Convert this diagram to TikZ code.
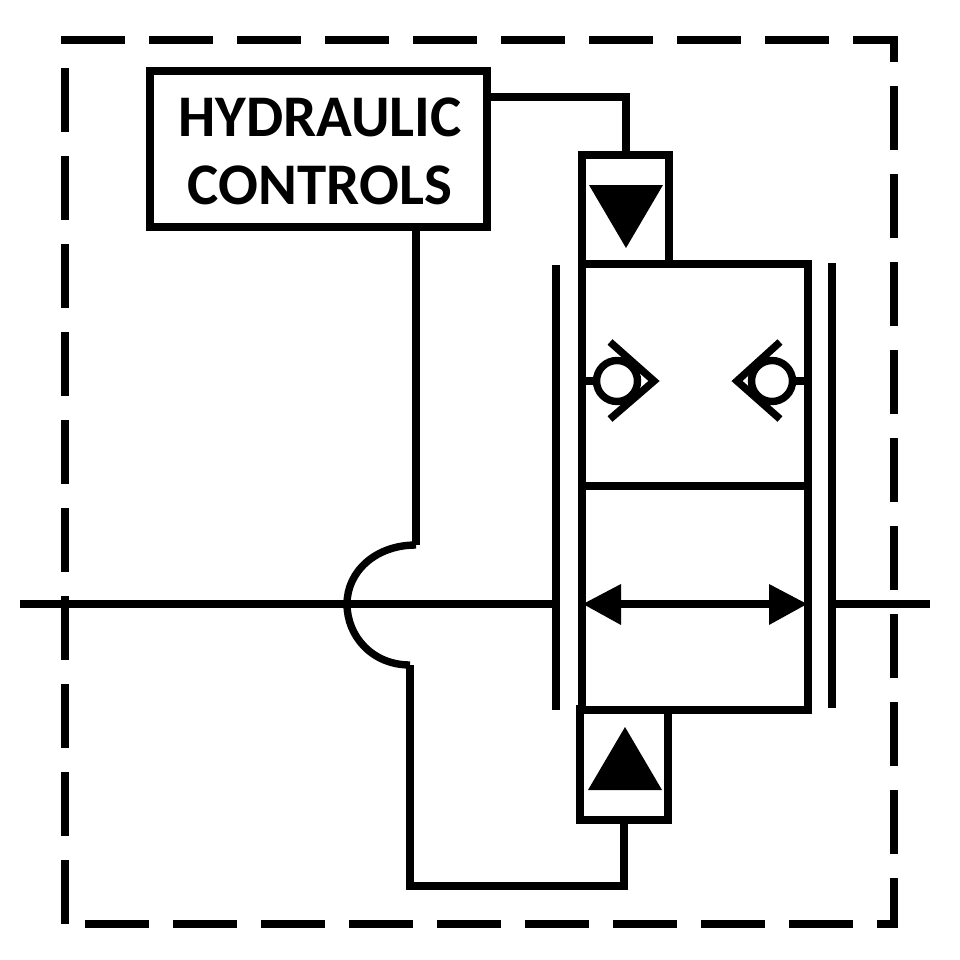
\documentclass[tikz,border=0pt]{standalone}
\usepackage{fontspec}
\setmainfont{Carlito}
\begin{document}
\begin{tikzpicture}[x=1pt,y=-1pt,line join=miter,
  ln/.style={draw=black,line width=7.4pt},
  frame/.style={draw=black,line width=7.6pt,dash pattern=on 64pt off 24pt},
  boxx/.style={ln,rectangle,inner sep=0pt,outer sep=0pt,fill=white},
  tip/.style={fill=black,draw=none},
  ball/.style={ln,circle,inner sep=0pt,outer sep=0pt,minimum size=41pt,fill=none},
  lab/.style={font=\fontsize{59}{68}\selectfont\bfseries,align=center,inner sep=0pt}]
\useasboundingbox (0,0) rectangle (960,960);
\fill[white] (0,0) rectangle (960,960);
% dashed enclosure
\draw[frame] (65,68) -- (65,924);
\draw[frame,dash phase=18pt] (894,924) -- (894,40) -- +(4,0);
\draw[frame] (61,40) -- (898,40);
\draw[frame,dash phase=43pt] (898,924) -- (85,924);
% named points
\coordinate (axisL) at (20,604);
\coordinate (axisR) at (930,604);
\coordinate (arcTop) at (416,545);
\coordinate (arcBot) at (410,665);
\coordinate (ctrlOut) at (490,97);
\coordinate (pilotTopIn) at (626,155);
\coordinate (ctrlDown) at (416,228);
\coordinate (pilotBotIn) at (624,820);
\coordinate (barLt) at (556,265);
\coordinate (barLb) at (556,710);
\coordinate (barRt) at (832,263);
\coordinate (barRb) at (832,708);
\coordinate (axisLe) at (553,604);
\coordinate (axisRs) at (835,604);
% boxes
\node[boxx,minimum width=337pt,minimum height=156pt] (ctrl) at (318.5,149) {};
\node[lab] (ctrllabel) at (320,151) {HYDRAULIC\\CONTROLS};
\node[boxx,minimum width=87pt,minimum height=109pt] (pilotT) at (625.5,209.5) {};
\node[boxx,minimum width=88pt,minimum height=111pt] (pilotB) at (624,764.5) {};
\node[boxx,minimum width=226pt,minimum height=222pt] (mainT) at (695,375) {};
\node[boxx,minimum width=226pt,minimum height=224pt] (mainB) at (695,598) {};
% connectors
\draw[ln] (ctrlOut) -- (626,97) -- (pilotTopIn);
\draw[ln] (ctrlDown) -- (arcTop);
\draw[ln] (arcTop) .. controls (375,545) and (347,572) .. (347,604) .. controls (347,636) and (372,665) .. (arcBot);
\draw[ln] (arcBot) -- (410,886) -- (624,886) -- (pilotBotIn);
\draw[ln] (axisL) -- (axisLe);
\draw[ln] (axisRs) -- (axisR);
\draw[ln] (barLt) -- (barLb);
\draw[ln] (barRt) -- (barRb);
% triangles
\fill[tip] (589,185) -- (663,185) -- (626,248) -- cycle;
\fill[tip] (588,790) -- (662,790) -- (625,727) -- cycle;
% double arrow
\draw[ln] (600,604) -- (790,604);
\fill[tip] (583,604) -- (621,584) -- (621,625) -- cycle;
\fill[tip] (807,604) -- (769,584) -- (769,625) -- cycle;
% check valves
\node[ball] (ckL) at (617,381) {};
\node[ball] (ckR) at (772,381) {};
\draw[ln] (mainT.west |- ckL) -- (ckL);
\draw[ln] (mainT.east |- ckR) -- (ckR);
\draw[ln] (610,342) -- (654,381) -- (610,419);
\draw[ln] (780,342) -- (737,381) -- (780,419);
\end{tikzpicture}
\end{document}
